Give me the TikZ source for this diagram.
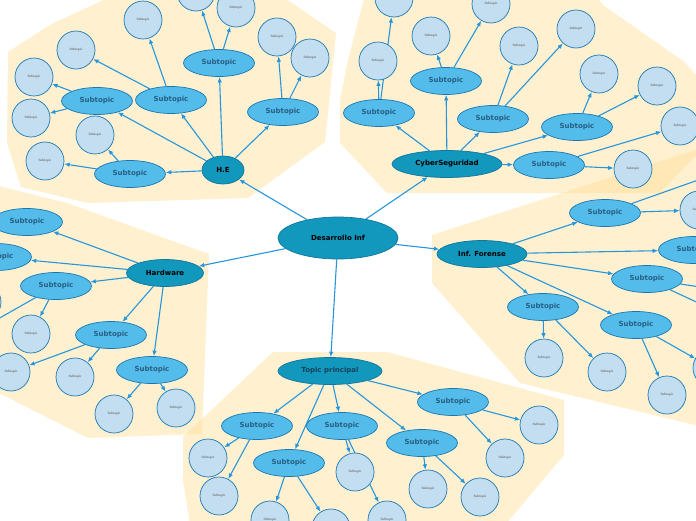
\documentclass[tikz,border=0pt]{standalone}
\usepackage{fontspec}
\newfontfamily\dvs{DejaVu Sans}
\newfontfamily\lser{Liberation Serif}
\usetikzlibrary{shapes.geometric,arrows.meta}
\definecolor{zonec}{RGB}{255,221,150}
\definecolor{mainc}{RGB}{18,151,189}
\definecolor{mainb}{RGB}{16,118,158}
\definecolor{subc}{RGB}{84,188,235}
\definecolor{subb}{RGB}{25,120,178}
\definecolor{leafc}{RGB}{195,222,240}
\definecolor{arrc}{RGB}{37,150,220}
\definecolor{subt}{RGB}{40,95,130}
\definecolor{topt}{RGB}{22,66,92}
\pgfdeclarelayer{zones}
\pgfdeclarelayer{edges}
\pgfsetlayers{zones,edges,main}
\begin{document}
\begin{tikzpicture}[x=1pt,y=-1pt,
  topnode/.style={ellipse, fill=mainc, draw=mainb, line width=0.7pt, inner sep=0pt, font=\dvs\bfseries\fontsize{7}{8}\selectfont, text=black},
  subnode/.style={ellipse, fill=subc, draw=subb, line width=0.7pt, minimum width=71pt, minimum height=27pt, inner sep=0pt, font=\dvs\bfseries\fontsize{7}{8}\selectfont, text=subt},
  leaf/.style={circle, fill=leafc, draw=subb, line width=0.7pt, minimum size=38pt, inner sep=0pt, font=\lser\bfseries\fontsize{3.4}{3.8}\selectfont, text=black!55},
  conn/.style={draw=arrc, line width=1.1pt, -{Latex[length=5.5pt,width=4.5pt]}},
  zone/.style={fill=zonec, fill opacity=0.45, draw=none}]
\useasboundingbox (0,0) rectangle (696,520);

% zones
\begin{pgfonlayer}{zones}
\fill[zone] (114,-5) -- (50,25) -- (8,52) -- (7,143) -- (21,187) -- (88,203) -- (248,198) -- (325,142) -- (336,33) -- (280,-5) -- cycle;
\fill[zone] (365,-5) -- (348,60) -- (340,100) -- (340,143) -- (387,193) -- (660,193) -- (720,130) -- (720,100) -- (683,61) -- (603,5) -- (595,-5) -- cycle;
\fill[zone] (432,235) -- (720,142) -- (720,431) -- (520,383) -- (432,283) -- cycle;
\fill[zone] (-5,185) -- (67,203) -- (209,254) -- (202,434) -- (88,438) -- (-5,391) -- cycle;
\fill[zone] (273,352) -- (387,352) -- (564,400) -- (564,455) -- (505,525) -- (190,525) -- (183,480) -- (183,437) -- cycle;
\end{pgfonlayer}

% central and main topics
\node[topnode, minimum width=120pt, minimum height=42pt] (c) at (338,238) {Desarrollo Inf};
\node[topnode, minimum width=42pt, minimum height=28pt] (he) at (223,170) {H.E};
\node[topnode, minimum width=110pt, minimum height=27pt] (cy) at (447,164) {CyberSeguridad};
\node[topnode, minimum width=90pt, minimum height=27pt] (fo) at (482,254) {Inf. Forense};
\node[topnode, minimum width=77pt, minimum height=27pt] (hw) at (165,273) {Hardware};
\node[topnode, minimum width=104pt, minimum height=27pt, text=topt] (tp) at (330,371) {Topic principal};

% H.E
\node[subnode] (hs1) at (219,63) {Subtopic};
\node[subnode] (hs2) at (171,100) {Subtopic};
\node[subnode] (hs3) at (97,101) {Subtopic};
\node[subnode] (hs4) at (130,174) {Subtopic};
\node[subnode] (hs5) at (283,112) {Subtopic};
\node[leaf] (hl1) at (196,-8) {Subtopic};
\node[leaf] (hl2) at (236,8) {Subtopic};
\node[leaf] (hl3) at (143,20) {Subtopic};
\node[leaf] (hl4) at (76,50) {Subtopic};
\node[leaf] (hl5) at (34,77) {Subtopic};
\node[leaf] (hl6) at (31,118) {Subtopic};
\node[leaf] (hl7) at (95,135) {Subtopic};
\node[leaf] (hl8) at (45,161) {Subtopic};
\node[leaf] (hl9) at (277,37) {Subtopic};
\node[leaf] (hl10) at (310,58) {Subtopic};

% CyberSeguridad
\node[subnode] (cs1) at (379,113) {Subtopic};
\node[subnode] (cs2) at (446,81) {Subtopic};
\node[subnode] (cs3) at (493,119) {Subtopic};
\node[subnode] (cs4) at (577,127) {Subtopic};
\node[subnode] (cs5) at (549,165) {Subtopic};
\node[leaf] (cl1) at (378,61) {Subtopic};
\node[leaf] (cl2) at (394,-2) {Subtopic};
\node[leaf] (cl3) at (431,36) {Subtopic};
\node[leaf] (cl4) at (491,4) {Subtopic};
\node[leaf] (cl5) at (519,46) {Subtopic};
\node[leaf] (cl6) at (576,29) {Subtopic};
\node[leaf] (cl7) at (599,74) {Subtopic};
\node[leaf] (cl8) at (657,86) {Subtopic};
\node[leaf] (cl9) at (680,126) {Subtopic};
\node[leaf] (cl10) at (633,169) {Subtopic};

% Inf. Forense
\node[subnode] (fs1) at (605,213) {Subtopic};
\node[subnode] (fs2) at (694,250) {Subtopic};
\node[subnode] (fs3) at (647,279) {Subtopic};
\node[subnode] (fs4) at (543,307) {Subtopic};
\node[subnode] (fs5) at (636,325) {Subtopic};
\node[leaf] (fl1) at (699,210) {Subtopic};
\node[leaf] (fl2) at (735,167) {Subtopic};
\node[leaf] (fl3) at (740,293) {Subtopic};
\node[leaf] (fl4) at (735,320) {Subtopic};
\node[leaf] (fl5) at (712,368) {Subtopic};
\node[leaf] (fl6) at (667,395) {Subtopic};
\node[leaf] (fl7) at (544,358) {Subtopic};
\node[leaf] (fl8) at (607,372) {Subtopic};

% Hardware
\node[subnode] (ws1) at (27,222) {Subtopic};
\node[subnode] (ws2) at (-4,257) {Subtopic};
\node[subnode] (ws3) at (56,286) {Subtopic};
\node[subnode] (ws4) at (111,335) {Subtopic};
\node[subnode] (ws5) at (152,370) {Subtopic};
\node[leaf] (wl1) at (31,334) {Subtopic};
\node[leaf] (wl2) at (-18,302) {Subtopic};
\node[leaf] (wl3) at (-32,336) {Subtopic};
\node[leaf] (wl4) at (11,372) {Subtopic};
\node[leaf] (wl5) at (75,377) {Subtopic};
\node[leaf] (wl6) at (114,414) {Subtopic};
\node[leaf] (wl7) at (176,408) {Subtopic};

% Topic principal
\node[subnode] (ts1) at (257,426) {Subtopic};
\node[subnode] (ts2) at (342,426) {Subtopic};
\node[subnode] (ts3) at (289,463) {Subtopic};
\node[subnode] (ts4) at (422,443) {Subtopic};
\node[subnode] (ts5) at (453,402) {Subtopic};
\node[leaf] (tl1) at (208,458) {Subtopic};
\node[leaf] (tl2) at (219,496) {Subtopic};
\node[leaf] (tl3) at (270,520) {Subtopic};
\node[leaf] (tl4) at (331,528) {Subtopic};
\node[leaf] (tl5) at (355,472) {Subtopic};
\node[leaf] (tl6) at (387,520) {Subtopic};
\node[leaf] (tl7) at (428,489) {Subtopic};
\node[leaf] (tl8) at (480,497) {Subtopic};
\node[leaf] (tl9) at (505,458) {Subtopic};
\node[leaf] (tl10) at (539,425) {Subtopic};

\begin{pgfonlayer}{edges}
\foreach \a/\b in {c/he, c/cy, c/fo, c/hw, c/tp,
  he/hs1, he/hs2, he/hs3, he/hs4, he/hs5,
  hs1/hl1, hs1/hl2, hs2/hl3, hs2/hl4, hs3/hl5, hs3/hl6, hs4/hl7, hs4/hl8, hs5/hl9, hs5/hl10,
  cy/cs1, cy/cs2, cy/cs3, cy/cs4, cy/cs5,
  cs1/cl1, cs1/cl2, cs2/cl3, cs2/cl4, cs3/cl5, cs3/cl6, cs4/cl7, cs4/cl8, cs5/cl9, cs5/cl10,
  fo/fs1, fo/fs2, fo/fs3, fo/fs4, fo/fs5,
  fs1/fl1, fs1/fl2, fs3/fl3, fs3/fl4, fs5/fl5, fs5/fl6, fs4/fl7, fs4/fl8,
  hw/ws1, hw/ws2, hw/ws3, hw/ws4, hw/ws5,
  ws3/wl1, ws2/wl2, ws3/wl3, ws4/wl4, ws4/wl5, ws5/wl6, ws5/wl7,
  tp/ts1, tp/ts2, tp/ts3, tp/ts4, tp/ts5,
  ts1/tl1, ts1/tl2, ts3/tl3, ts3/tl4, ts2/tl5, ts2/tl6, ts4/tl7, ts4/tl8, ts5/tl9, ts5/tl10}
  \draw[conn] (\a) -- (\b);
\end{pgfonlayer}
\end{tikzpicture}
\end{document}
